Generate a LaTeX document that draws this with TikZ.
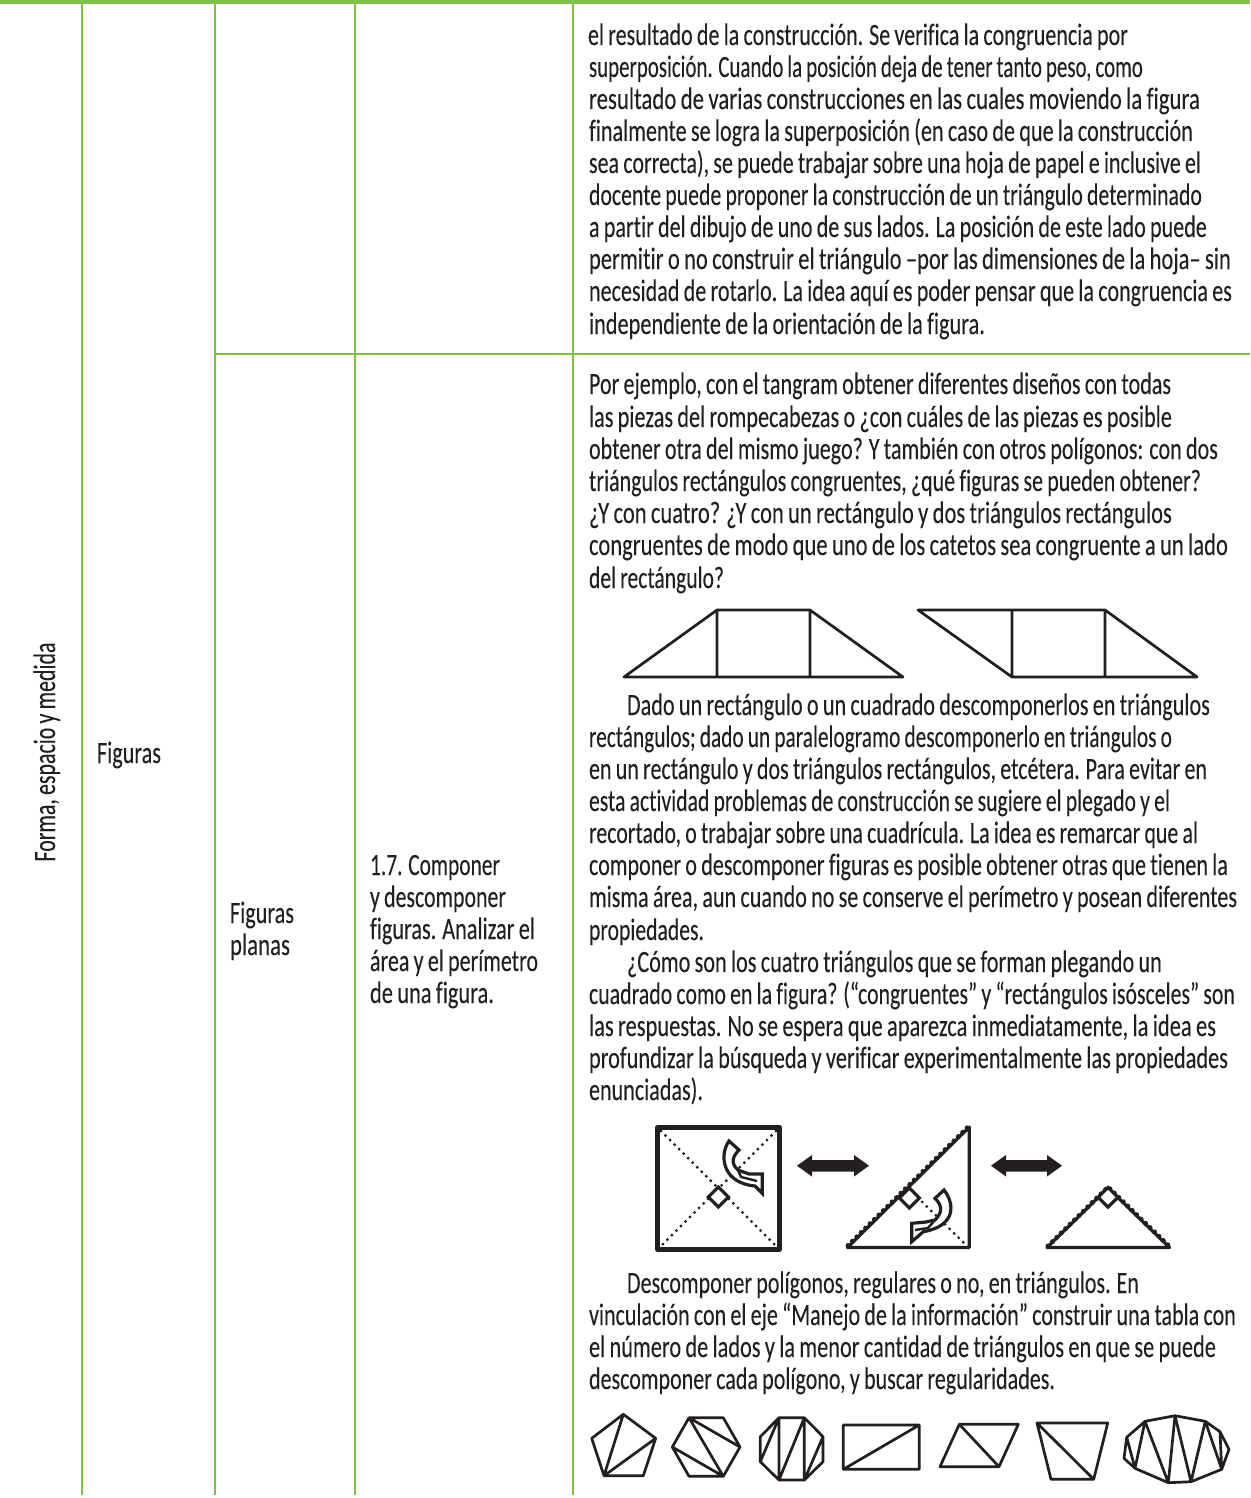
\documentclass[tikz,border=0pt]{standalone}
\usepackage{fontspec}
\usepackage{graphicx}
\setmainfont{Carlito}[Ligatures=CommonOff,WordSpace=0.85,FakeBold=0.1]
\definecolor{grn}{HTML}{7DC242}
\definecolor{ink}{HTML}{231F20}
\newlength\tlw
\newcommand\fitbox[2]{\settowidth\tlw{#2}\pgfmathsetmacro\tlr{(#1)/\tlw}\scalebox{\tlr}[1]{#2}}
% name, x left, baseline y, x right, text
\newcommand\tl[5]{\node[txt] (#1) at (#2,#3) {\fitbox{#4-#2}{#5}};}
\tikzset{
  txt/.style={anchor=base west,inner sep=0pt,outer sep=0pt,text=ink,font=\fontsize{31}{32}\selectfont},
  rulegreen/.style={draw=grn,line width=2.4pt},
  fig/.style={draw=ink,line width=2.7pt,line join=round},
  figb/.style={draw=ink,line width=4.2pt,line join=round},
  fign/.style={draw=ink,line width=3.2pt,line join=round},
  dots/.style={draw=ink,line width=3.2pt,line cap=round,dash pattern=on 0pt off 6.4pt},
  hatch/.style={draw=ink,line width=5pt,line cap=round,dash pattern=on 0pt off 6.2pt},
  dbl/.style={fill=ink,draw=none},
  curl/.style={fill=white,draw=ink,line width=3.2pt,line join=miter},
  rightmark/.style={fill=white,draw=ink,line width=3.2pt}
}
\begin{document}
\begin{tikzpicture}[x=1pt,y=-1pt]
\useasboundingbox (0,0) rectangle (1250,1498);
\fill[white] (0,0) rectangle (1250,1498);
% table rules
\draw[grn,line width=4.4pt] (0,2.2) -- (1250,2.2);
\foreach \xx in {82,215,355,573} \draw[rulegreen] (\xx,4) -- (\xx,1495);
\draw[rulegreen] (215,354) -- (1250,354);
% left columns
\node[txt,anchor=base,rotate=90] (eje) at (55,752) {\fitbox{219}{Forma, espacio y medida}};
\tl{tema}{97}{763}{161}{Figuras}
\tl{sub1}{230}{923}{294}{Figuras}
\tl{sub2}{230}{955}{290}{planas}
\tl{c1}{370}{875}{500}{1.7. Componer}
\tl{c2}{370}{907}{506}{y descomponer}
\tl{c3}{370}{939}{535}{figuras. Analizar el}
\tl{c4}{370}{971}{538}{área y el perímetro}
\tl{c5}{370}{1003}{494}{de una figura.}
% block 1
\tl{a1}{588}{45}{1128}{el resultado de la construcción. Se verifica la congruencia por}
\tl{a2}{589}{77}{1143}{superposición. Cuando la posición deja de tener tanto peso, como}
\tl{a3}{589}{109}{1200}{resultado de varias construcciones en las cuales moviendo la figura}
\tl{a4}{589}{141}{1193}{finalmente se logra la superposición (en caso de que la construcción}
\tl{a5}{589}{173}{1201}{sea correcta), se puede trabajar sobre una hoja de papel e inclusive el}
\tl{a6}{589}{205}{1202}{docente puede proponer la construcción de un  triángulo determinado}
\tl{a7}{589}{237}{1207}{a partir del dibujo de uno de sus lados. La posición de este lado puede}
\tl{a8}{589}{269}{1231}{permitir o no construir el triángulo –por las dimensiones de la hoja– sin}
\tl{a9}{589}{301}{1232}{necesidad de rotarlo. La idea aquí es poder pensar que la congruencia es}
\tl{a10}{589}{334}{985}{independiente de la orientación de la figura.}
% block 2
\tl{b1}{589}{394}{1171}{Por ejemplo, con el tangram obtener diferentes diseños con todas}
\tl{b2}{589}{427}{1172}{las piezas del rompecabezas o ¿con cuáles de las piezas es posible}
\tl{b3}{589}{459}{1218}{obtener otra del mismo juego? Y también con otros polígonos: con dos}
\tl{b4}{589}{491}{1201}{triángulos rectángulos congruentes, ¿qué figuras se pueden obtener?}
\tl{b5}{589}{523}{1172}{¿Y con cuatro? ¿Y con un rectángulo y dos triángulos rectángulos}
\tl{b6}{589}{555}{1228}{congruentes de modo que uno de los catetos sea congruente a un lado}
\tl{b7}{589}{588}{724}{del rectángulo?}
\tl{d1}{627}{715}{1210}{Dado un rectángulo o un cuadrado descomponerlos en triángulos}
\tl{d2}{589}{747}{1172}{rectángulos; dado un paralelogramo descomponerlo en triángulos o}
\tl{d3}{589}{779}{1207}{en un rectángulo y dos triángulos rectángulos, etcétera. Para evitar en}
\tl{d4}{589}{811}{1170}{esta actividad problemas de construcción se sugiere el plegado y el}
\tl{d5}{589}{843}{1198}{recortado, o trabajar sobre una cuadrícula. La idea es remarcar que al}
\tl{d6}{589}{875}{1228}{componer o descomponer figuras es posible obtener otras que tienen la}
\tl{d7}{589}{907}{1237}{misma área, aun cuando no se conserve el perímetro y posean diferentes}
\tl{d8}{589}{940}{704}{propiedades.}
\tl{e1}{627}{972}{1162}{¿Cómo son los cuatro triángulos que se forman plegando un}
\tl{e2}{589}{1004}{1235}{cuadrado como en la figura? (“congruentes” y “rectángulos isósceles” son}
\tl{e3}{589}{1036}{1216}{las respuestas. No se espera que aparezca inmediatamente, la idea es}
\tl{e4}{589}{1068}{1228}{profundizar la búsqueda y verificar experimentalmente las propiedades}
\tl{e5}{589}{1100}{703}{enunciadas).}
\tl{f1}{627}{1293}{1139}{Descomponer polígonos, regulares o no, en triángulos. En}
\tl{f2}{589}{1325}{1236}{vinculación con el eje “Manejo de la información” construir una tabla con}
\tl{f3}{589}{1357}{1216}{el número de lados y la menor cantidad de triángulos en que se puede}
\tl{f4}{589}{1389}{1055}{descomponer cada polígono, y buscar regularidades.}
% trapezoids
\draw[fig] (624,677) -- (717,610) -- (810,610) -- (903,677) -- cycle (717,610) -- (717,677) (810,610) -- (810,677);
\draw[fig] (918,610) -- (1105,610) -- (1197,677) -- (1012,677) -- cycle (1012,610) -- (1012,677) (1105,610) -- (1105,677);
% folded square
\draw[figb] (657.5,1127.5) rectangle (779.5,1249.5);
\draw[dots] (661,1131) -- (776,1246);
\draw[dots] (776,1131) -- (661,1246);
\draw[rightmark] (718.3,1187) -- (728.3,1197) -- (718.3,1207) -- (708.3,1197) -- cycle;
\draw[curl] (729,1141) .. controls (719,1155) and (722,1183) .. (755,1186) -- (762.3,1193.3) -- (762.3,1174) -- (749,1174) -- (738,1170) .. controls (730,1163) and (733,1156) .. (739,1150) -- cycle;
\draw[ink,line width=2.4pt] (738,1170) -- (741,1177) -- (757,1181);
% double arrows
\fill[dbl] (797,1165.7) -- (812,1155) -- (812,1160) -- (854,1160) -- (854,1155) -- (869,1165.7) -- (854,1176.5) -- (854,1171.5) -- (812,1171.5) -- (812,1176.5) -- cycle;
\fill[dbl] (991,1165.7) -- (1006,1155) -- (1006,1160) -- (1047,1160) -- (1047,1155) -- (1062,1165.7) -- (1047,1176.5) -- (1047,1171.5) -- (1006,1171.5) -- (1006,1176.5) -- cycle;
% half square
\draw[fign] (847.5,1247.5) -- (969.3,1247.5) -- (969.3,1127) -- cycle;
\draw[hatch] (848,1245.5) -- (968,1127);
\draw[dots] (913,1193) -- (966,1245);
\draw[rightmark] (909.3,1188) -- (919.3,1198) -- (909.3,1208) -- (899.3,1198) -- cycle;
\draw[curl] (944,1190) .. controls (955,1204) and (956,1226) .. (923.3,1231.7) -- (911.7,1241.7) -- (911.7,1223.3) -- (926,1222) -- (935,1220) .. controls (942,1213) and (943,1206) .. (935,1198.3) -- cycle;
\draw[ink,line width=2.4pt] (935,1220) -- (928,1228) -- (915,1230);
% small triangle
\draw[fign] (1047,1247.5) -- (1169.5,1247.5) -- (1108,1188) -- cycle;
\draw[hatch] (1048,1246) -- (1108,1187) -- (1169,1246);
\draw[rightmark] (1108,1187.5) -- (1118,1197.3) -- (1108,1207) -- (1098,1197.3) -- cycle;
% polygons
\draw[fig] (623.3,1414.3) -- (655.7,1438.3) -- (643.3,1475.7) -- (604,1475.7) -- (591.7,1438.3) -- cycle (604,1475.7) -- (623.3,1414.3) (604,1475.7) -- (655.7,1438.3);
\draw[fig] (689,1417.7) -- (723.3,1417.7) -- (740,1447) -- (723.3,1476.3) -- (689,1476.3) -- (672.3,1447) -- cycle (689,1417.7) -- (740,1447) (689,1417.7) -- (723.3,1476.3) (672.3,1447) -- (723.3,1476.3);
\draw[fig] (779,1417.7) -- (804.3,1417.7) -- (823,1436.7) -- (823,1461.7) -- (804.3,1480) -- (779,1480) -- (760.3,1461.7) -- (760.3,1436.7) -- cycle (779,1417.7) -- (779,1480) (804.3,1417.7) -- (804.3,1480) (779,1417.7) -- (760.3,1461.7) (804.3,1417.7) -- (779,1480) (823,1436.7) -- (804.3,1480);
\draw[fig] (843.3,1425) rectangle (919.3,1469.3) (843.3,1469.3) -- (919.3,1425);
\draw[fig] (959.3,1424.3) -- (1018.3,1424.3) -- (999,1466.7) -- (940,1466.7) -- cycle (959.3,1424.3) -- (999,1466.7);
\draw[fig] (1037,1423) -- (1107.7,1423) -- (1093.7,1479.3) -- (1051,1479.3) -- cycle (1037,1423) -- (1093.7,1479.3);
\draw[fig] (1175,1415.7) -- (1205.3,1421.3) -- (1220,1431.7) -- (1229,1449.3) -- (1221.7,1469.3) -- (1191,1481.7) -- (1168.3,1482.7) -- (1135,1468.3) -- (1124,1458.3) -- (1126.7,1437.3) -- (1145,1421.3) -- cycle
 (1126.7,1437.3) -- (1135,1468.3) -- (1145,1421.3) -- (1168.3,1482.7) -- (1175,1415.7) -- (1191,1481.7) -- (1205.3,1421.3) -- (1221.7,1469.3) -- (1220,1431.7);
\end{tikzpicture}
\end{document}
